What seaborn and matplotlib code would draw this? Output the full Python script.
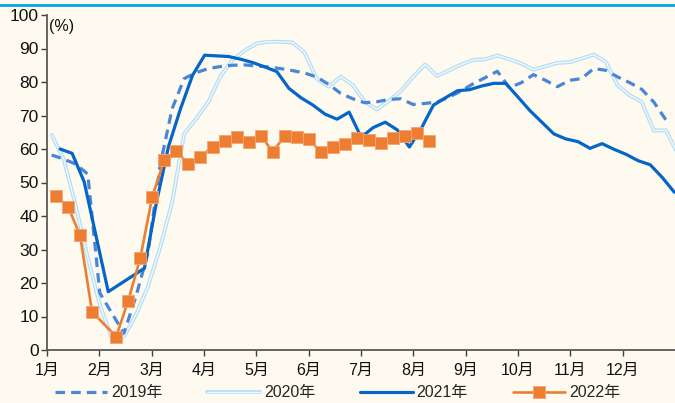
import numpy as np
import pandas as pd
import matplotlib
matplotlib.use("Agg")
import matplotlib.pyplot as plt
import seaborn as sns
from matplotlib.lines import Line2D
from matplotlib.legend_handler import HandlerTuple

# ---------------------------------------------------------------
# Dados (semanas, leitura do gráfico original)
# ---------------------------------------------------------------
month_labels = ["1月", "2月", "3月", "4月", "5月", "6月",
                "7月", "8月", "9月", "10月", "11月", "12月"]

# dia do ano da primeira semana de cada série
first_day_2019 = 2.7
first_day_2020 = 2.7
first_day_2021 = 7.6
first_day_2022 = 5.2

weeks_2019 = list(range(52))
vals_2019 = [58.2, 57.0, 55.5, 52.5, 17.0, 11.0, 5.0, 16.0, 29.0, 55.0,
             72.0, 81.0, 82.8, 84.0, 84.6, 85.0, 85.1, 84.8, 84.5, 84.0,
             83.4, 82.7, 81.5, 79.3, 76.6, 75.0, 73.8, 74.1, 74.8, 75.0,
             73.3, 73.6, 74.0, 75.5, 77.3, 79.5, 81.3, 83.2, 78.3, 79.8,
             82.2, 80.5, 78.6, 80.5, 81.0, 84.0, 83.5, 81.5, 79.8, 77.8,
             74.0, 68.7]

weeks_2020 = list(range(53))
vals_2020 = [64.2, 57.0, 43.0, 27.5, 13.5, 3.5, 4.0, 10.5, 19.0, 30.5,
             44.0, 64.5, 69.0, 74.0, 81.6, 86.5, 89.3, 91.5, 92.0, 92.0,
             91.8, 88.8, 81.0, 78.6, 81.6, 79.1, 74.1, 71.8, 74.4, 77.3,
             81.5, 85.2, 81.8, 83.5, 85.2, 86.6, 86.8, 87.9, 86.8, 85.5,
             83.7, 84.7, 85.7, 85.9, 87.0, 88.2, 86.1, 79.0, 76.0, 74.0,
             65.5, 65.6, 58.5]

weeks_2021 = [0, 1, 2, 4] + list(range(7, 52))
vals_2021 = [60.0, 58.7, 50.2, 17.4, 24.4, 44.0, 60.7, 72.0, 82.0, 88.0,
             87.8, 87.6, 86.8, 85.8, 84.5, 83.1, 78.1, 75.3, 73.1, 70.4,
             68.9, 71.0, 63.5, 66.4, 68.0, 65.7, 60.6, 66.2, 73.1, 75.3,
             77.4, 77.7, 78.8, 79.6, 79.6, 75.6, 71.5, 68.0, 64.5, 63.0,
             62.2, 60.2, 61.6, 59.9, 58.4, 56.5, 55.3, 51.5, 47.1]

weeks_2022 = [0, 1, 2, 3] + list(range(5, 32))
vals_2022 = [46.0, 42.8, 34.3, 11.4, 4.0, 14.7, 27.4, 45.8, 56.8, 59.4,
             55.5, 57.7, 60.7, 62.5, 63.7, 62.2, 64.0, 59.2, 63.9, 63.7,
             63.0, 59.0, 60.7, 61.5, 63.4, 62.7, 61.9, 63.4, 64.0, 64.7,
             62.5]

BG = "#fffaf0"
C2019 = "#4a86d6"
C2020_OUT = "#b5def5"
C2020_IN = "#f1f9fd"
C2021 = "#0566c8"
C2022 = "#ed7d31"

sns.set_style("ticks")
plt.rcParams["font.family"] = ["Liberation Sans", "Noto Sans CJK SC"]
plt.rcParams["axes.unicode_minus"] = False


def serie(first_day, weeks, vals):
    return pd.DataFrame({"dia": first_day + 7 * np.array(weeks), "valor": vals})


df19 = serie(first_day_2019, weeks_2019, vals_2019)
df20 = serie(first_day_2020, weeks_2020, vals_2020)
df21 = serie(first_day_2021, weeks_2021, vals_2021)
df22 = serie(first_day_2022, weeks_2022, vals_2022)

fig = plt.figure(figsize=(6.75, 4.03), dpi=100, facecolor=BG)
ax = fig.add_axes([47 / 675, 53 / 403, 628 / 675, 335 / 403])
ax.set_facecolor(BG)

# 2020: linha dupla (contorno claro + miolo)
sns.lineplot(data=df20, x="dia", y="valor", ax=ax, color=C2020_OUT, linewidth=2.8, zorder=2)
sns.lineplot(data=df20, x="dia", y="valor", ax=ax, color=C2020_IN, linewidth=1.0, zorder=2.1)
sns.lineplot(data=df19, x="dia", y="valor", ax=ax, color=C2019, linewidth=2.3,
             linestyle=(0, (3.0, 1.9)), zorder=3)
sns.lineplot(data=df21, x="dia", y="valor", ax=ax, color=C2021, linewidth=2.3, zorder=4)
sns.lineplot(data=df22, x="dia", y="valor", ax=ax, color=C2022, linewidth=1.9,
             marker="s", markersize=8, markeredgecolor="#f3a573", markeredgewidth=0.6, zorder=5)

ax.set_xlim(0, 365)
ax.set_ylim(0, 100)
ax.set_xticks([365 / 12 * k for k in range(12)])
ax.set_xticklabels(month_labels)
ax.set_yticks(range(0, 101, 10))
ax.set_xlabel("")
ax.set_ylabel("")
ax.tick_params(axis="both", length=4, width=1, color="#404040", labelcolor="#111111")
ax.tick_params(axis="x", pad=5, labelsize=11.5)
ax.tick_params(axis="y", pad=2, labelsize=12.5)
for lado in ["top", "right"]:
    ax.spines[lado].set_visible(False)
for lado in ["left", "bottom"]:
    ax.spines[lado].set_color("#595959")
    ax.spines[lado].set_linewidth(1.3)

ax.text(0.003, 0.967, "(%)", transform=ax.transAxes, fontsize=11.5, va="center", ha="left", color="#111111")

# linha azul no topo
fig.add_artist(Line2D([0, 1], [0.988, 0.988], transform=fig.transFigure, color="#00a6e4", linewidth=2))

# legenda
h19 = Line2D([], [], color=C2019, linewidth=2.3, linestyle=(0, (3.0, 1.9)))
h20 = (Line2D([], [], color=C2020_OUT, linewidth=2.8), Line2D([], [], color=C2020_IN, linewidth=1.0))
h21 = Line2D([], [], color=C2021, linewidth=2.3)
h22 = Line2D([], [], color=C2022, linewidth=1.9, marker="s", markersize=8,
             markeredgecolor="#f3a573", markeredgewidth=0.6)
fig.legend([h19, h20, h21, h22], ["2019年", "2020年", "2021年", "2022年"],
           handler_map={tuple: HandlerTuple(ndivide=1)},
           loc="center", bbox_to_anchor=(0.5, 0.025), ncol=4, frameon=False,
           fontsize=11.5, handlelength=3.3, handletextpad=0.25, columnspacing=2.8,
           borderpad=0, borderaxespad=0)

fig.savefig("out.png", dpi=100, facecolor=BG)
